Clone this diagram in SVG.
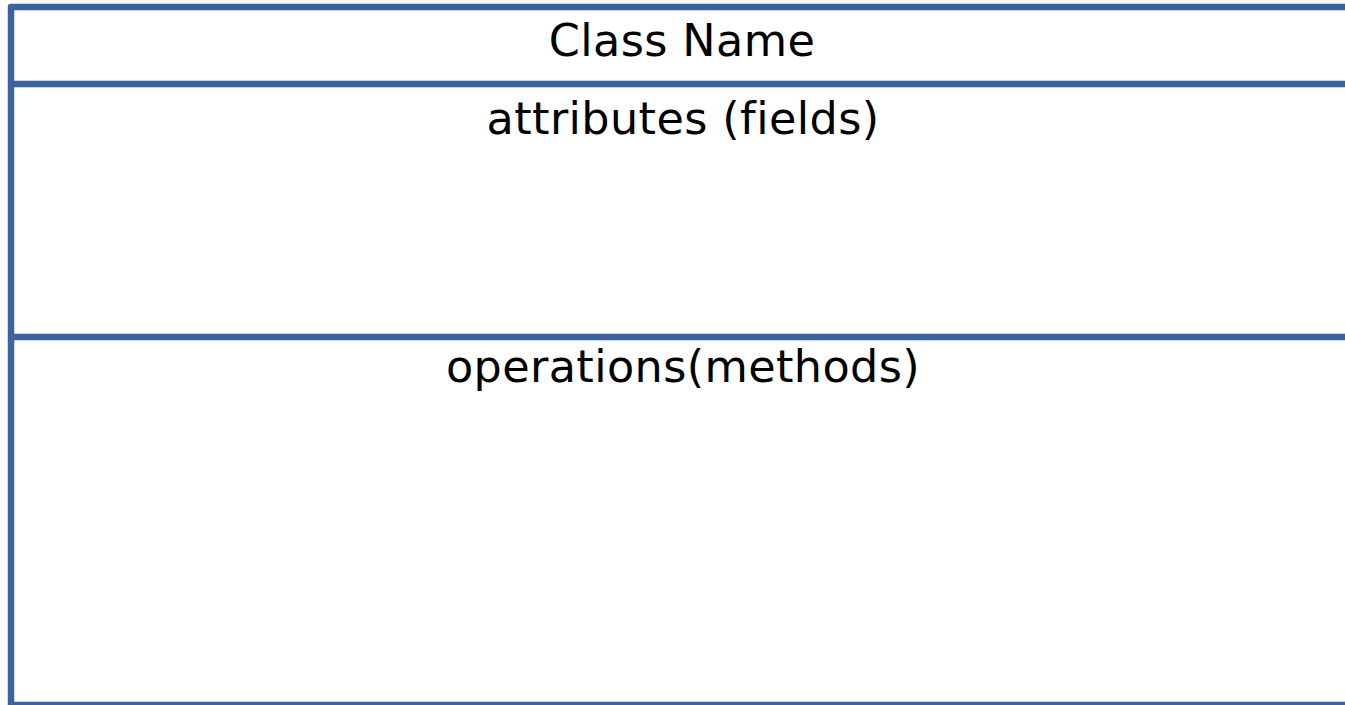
<svg xmlns="http://www.w3.org/2000/svg" width="1345" height="705" viewBox="0 0 1345 705">
  <style>
    .frame { fill: none; stroke: #3b649e; stroke-width: 6.5; stroke-linejoin: round; }
    .rule { stroke: #3b649e; stroke-width: 6.5; }
    .label { font-family: "DejaVu Sans", "Lucida Grande", Verdana, sans-serif; font-size: 44.5px; letter-spacing: 0.4px; font-variant-ligatures: none; fill: #000; text-anchor: middle; }
  </style>
  <rect width="1345" height="705" fill="#ffffff"/>
  <g id="class-box">
    <rect class="frame" x="11" y="7" width="1400" height="698"/>
    <line class="rule" x1="11" y1="84" x2="1345" y2="84"/>
    <line class="rule" x1="11" y1="337" x2="1345" y2="337"/>
  </g>
  <g id="name-compartment">
    <text class="label" x="682" y="56">Class Name</text>
  </g>
  <g id="attributes-compartment">
    <text class="label" x="683" y="134">attributes (fields)</text>
  </g>
  <g id="operations-compartment">
    <text class="label" x="683" y="382">operations(methods)</text>
  </g>
</svg>
